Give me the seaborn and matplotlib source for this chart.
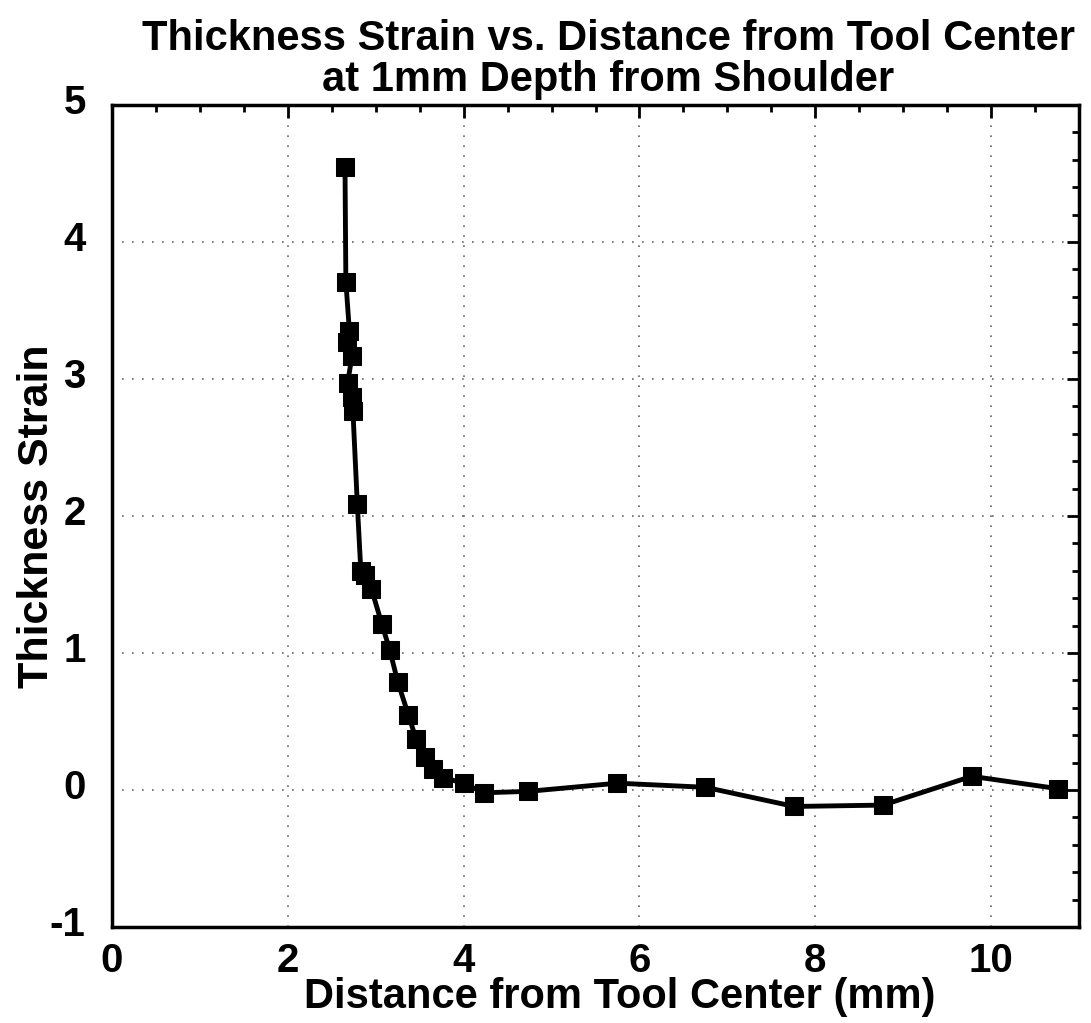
import matplotlib
matplotlib.use("Agg")
import matplotlib.pyplot as plt
import matplotlib.transforms as mtransforms
import seaborn as sns
import pandas as pd
from matplotlib.ticker import MultipleLocator

distance = [2.65, 2.66, 2.70, 2.67, 2.73, 2.68, 2.73, 2.74, 2.79, 2.83, 2.88, 2.95,
            3.07, 3.16, 3.25, 3.37, 3.46, 3.56, 3.65, 3.77, 4.00, 4.23, 4.73,
            5.75, 6.75, 7.76, 8.77, 9.78, 10.76]
strain = [4.55, 3.71, 3.35, 3.27, 3.17, 2.97, 2.87, 2.77, 2.09, 1.60, 1.57, 1.47,
          1.21, 1.02, 0.79, 0.55, 0.37, 0.24, 0.15, 0.09, 0.05, -0.02, -0.01,
          0.05, 0.02, -0.12, -0.11, 0.10, 0.01]

title = "Thickness Strain vs. Distance from Tool Center\nat 1mm Depth from Shoulder"
xlabel = "Distance from Tool Center (mm)"
ylabel = "Thickness Strain"

sns.set_theme(style="white")
plt.rcParams['font.family'] = ['Liberation Sans', 'DejaVu Sans']
plt.rcParams['font.weight'] = 'bold'
plt.rcParams['axes.unicode_minus'] = False
plt.rcParams['text.color'] = 'black'
plt.rcParams['axes.labelcolor'] = 'black'
plt.rcParams['xtick.color'] = 'black'
plt.rcParams['ytick.color'] = 'black'

df = pd.DataFrame({"x": distance, "y": strain})

fig = plt.figure(figsize=(10.91, 10.23), dpi=100)
ax = fig.add_axes([0.1027, 0.0938, 0.8863, 0.8036])

sns.lineplot(data=df, x="x", y="y", sort=False, estimator=None, ax=ax,
             color="black", linewidth=3.5, marker="s", markersize=13,
             markeredgecolor="black", markerfacecolor="black")

ax.set_xlim(0, 11)
ax.set_ylim(-1, 5)
ax.xaxis.set_major_locator(MultipleLocator(2))
ax.xaxis.set_minor_locator(MultipleLocator(0.5))
ax.yaxis.set_major_locator(MultipleLocator(1))
ax.yaxis.set_minor_locator(MultipleLocator(0.2))

ax.grid(True, which="major", linestyle=(0, (1, 5)), color="#666666", linewidth=1.2)
ax.tick_params(which="both", direction="in", top=True, right=True, color="black",
               labelcolor="black", labelsize=29, width=2)
ax.tick_params(which="major", length=9)
ax.tick_params(which="minor", length=5)
ax.tick_params(axis="x", pad=11)
ax.tick_params(axis="y", pad=19)
for sp in ax.spines.values():
    sp.set_color("black")
    sp.set_linewidth(2.5)

offset = mtransforms.ScaledTranslation(0, 6 / 100, fig.dpi_scale_trans)
for t in ax.yaxis.get_major_ticks():
    t.label1.set_transform(t.label1.get_transform() + offset)
    t.label1.set_fontweight("bold")
for t in ax.xaxis.get_major_ticks():
    t.label1.set_fontweight("bold")

ax.set_xlabel(xlabel, fontsize=30, fontweight="bold", color="black")
ax.xaxis.set_label_coords(0.525, -0.061)
ax.set_ylabel(ylabel, fontsize=31, fontweight="bold", labelpad=-5, color="black")
ax.set_title(title, fontsize=30, fontweight="bold", pad=10, linespacing=1.05,
             color="black", x=0.513)

fig.savefig("out.png", dpi=100, facecolor="white")
